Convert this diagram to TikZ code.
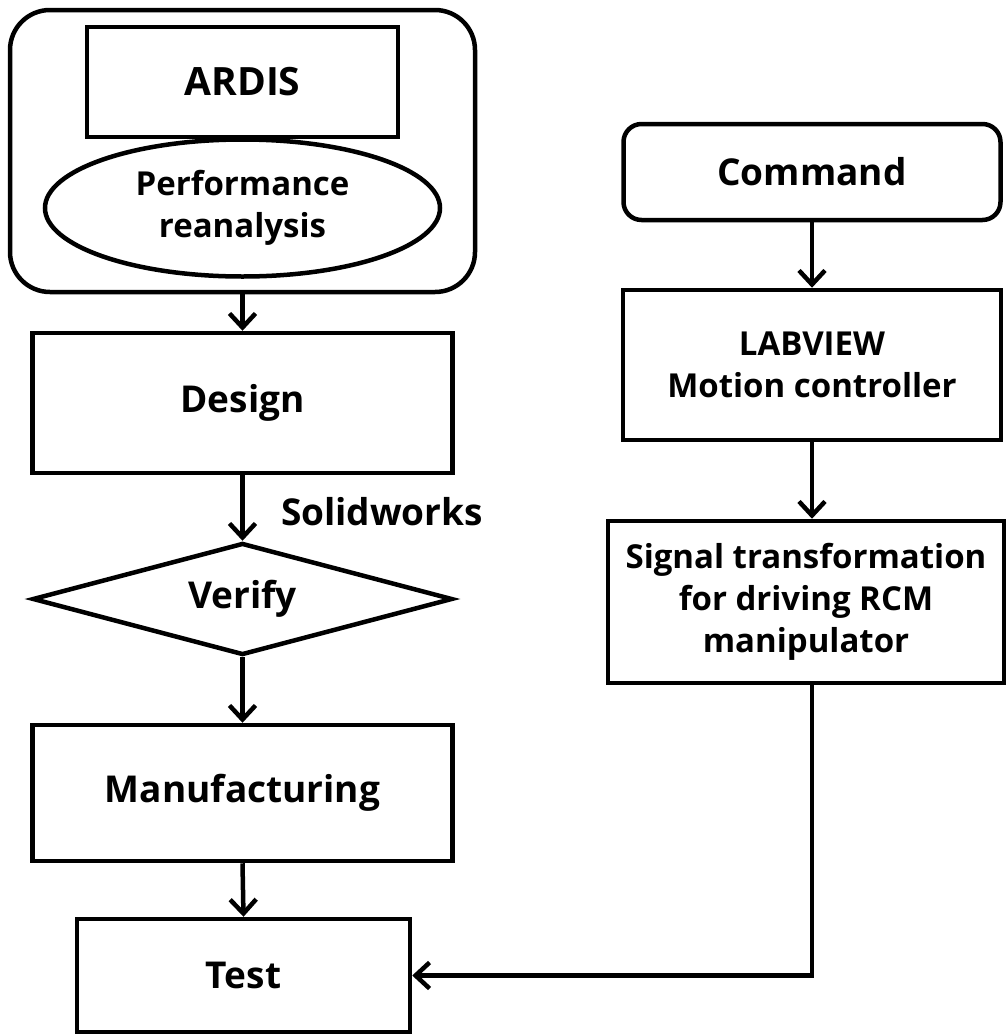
\documentclass[tikz,border=0pt]{standalone}
\usepackage{fontspec}
\setmainfont{Open Sans}
\usetikzlibrary{shapes.geometric,arrows.meta}
\begin{document}
\begin{tikzpicture}[x=1pt,y=-1pt,line width=4.5pt,
  box/.style={draw,rectangle,inner sep=0pt,align=center,font=\fontsize{37}{44}\selectfont\bfseries},
  multi/.style={font=\fontsize{33}{42}\selectfont\bfseries},
  rbox/.style={box,rounded corners=18pt},
  oval/.style={box,ellipse},
  decision/.style={box,diamond},
  arr/.style={-{Straight Barb[length=14pt,width=26pt]}},
  lbl/.style={font=\fontsize{37}{44}\selectfont\bfseries,inner sep=0pt}]
\useasboundingbox (0,0) rectangle (1007,1034);
\node[box,rounded corners=40pt,minimum width=465pt,minimum height=282pt] (outer) at (242.5,151) {};
\node[box,minimum width=311pt,minimum height=110pt,font=\fontsize{39}{44}\selectfont\bfseries] (ardis) at (242.5,82) {ARDIS};
\node[oval,multi,minimum width=395pt,minimum height=137pt] (perf) at (242.5,208) {Performance\\reanalysis};
\node[box,minimum width=420pt,minimum height=140pt] (design) at (242.5,403) {Design};
\node[decision,minimum width=420pt,minimum height=112pt,aspect=3.75] (verify) at (242.5,599) {Verify};
\node[box,minimum width=420pt,minimum height=136pt] (manuf) at (242.5,793) {Manufacturing};
\node[box,minimum width=333pt,minimum height=113pt] (test) at (243.5,975.5) {Test};
\node[rbox,minimum width=377pt,minimum height=96pt] (command) at (812,172) {Command};
\node[box,multi,minimum width=378pt,minimum height=150pt] (labview) at (812,365) {LABVIEW\\Motion controller};
\node[box,multi,minimum width=396pt,minimum height=162pt] (signal) at (806,602) {Signal transformation\\for driving RCM\\manipulator};
\node[lbl] (solid) at (382,512) {Solidworks};
\draw[arr] (outer.south) -- (design.north);
\draw[arr] (design.south) -- (verify.north);
\draw[arr] (verify.south) -- (manuf.north);
\draw[arr] (manuf.south) -- (test.north);
\draw[arr] (command.south) -- (labview.north);
\draw[arr] (labview.south) -- (labview.south |- signal.north);
\draw[arr] (labview.south |- signal.south) |- (test.east);
\end{tikzpicture}
\end{document}
